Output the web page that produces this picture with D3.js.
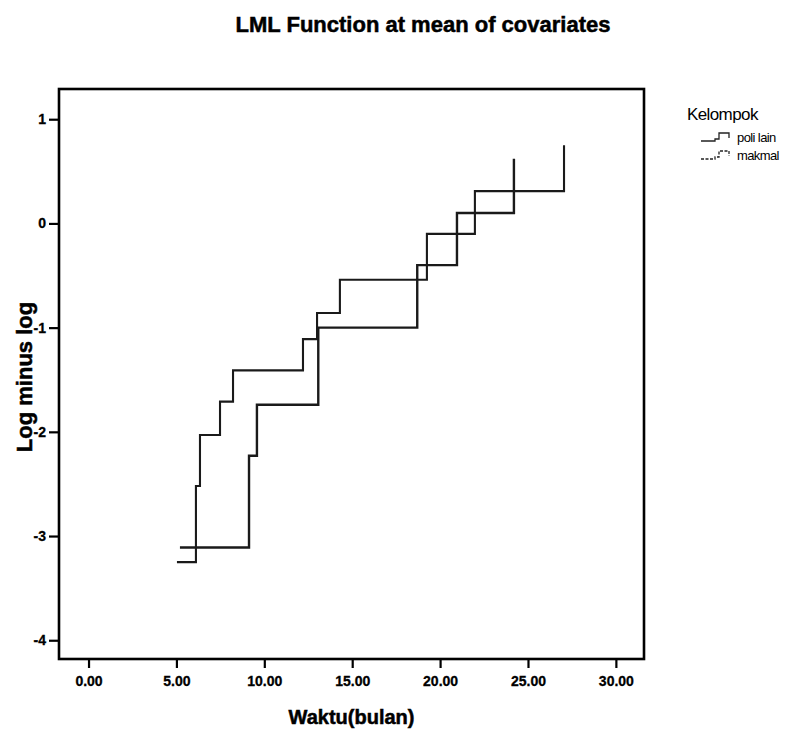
<!DOCTYPE html>
<html>
<head>
<meta charset="utf-8">
<script src="https://cdn.jsdelivr.net/npm/d3@7"></script>
<style>
    body { margin: 0; background: #fff; }
    svg text { font-family: "Liberation Sans", Arial, sans-serif; fill: #000; }
    .heavy { font-weight: bold; stroke: #000; stroke-width: 0.5px; }
</style>
</head>
<body>
<div id="chart"></div>
<script>
(function () {
    "use strict";

    // step points (time in months, log minus log)
    const poliTimes = [5.2, 9.13, 9.58, 13.07, 18.7, 20.96, 24.2];
    const poliValues = [-3.11, -2.23, -1.74, -1.0, -0.40, 0.10, 0.62];

    const makmalTimes = [5.03, 6.11, 6.34, 7.48, 8.22, 12.2, 13.0, 14.3, 19.25, 21.98, 27.05];
    const makmalValues = [-3.25, -2.52, -2.03, -1.71, -1.41, -1.11, -0.86, -0.54, -0.10, 0.31, 0.75];

    const xTicks = [0, 5, 10, 15, 20, 25, 30];
    const yTicks = [1, 0, -1, -2, -3, -4];

    const groups = [
        { name: "poli lain", times: poliTimes, values: poliValues, width: 2.4 },
        { name: "makmal", times: makmalTimes, values: makmalValues, width: 2.1 }
    ];

    const width = 800;
    const height = 730;
    const plot = { left: 59, right: 644, top: 89, bottom: 659 };

    const svg = d3.select("#chart").append("svg")
        .attr("width", width)
        .attr("height", height);

    const xScale = d3.scaleLinear()
        .domain([-1.68, 31.6])
        .range([plot.left, plot.right]);

    const yScale = d3.scaleLinear()
        .domain([-4.18, 1.29])
        .range([plot.bottom, plot.top]);

    svg.append("text")
        .attr("class", "heavy")
        .attr("x", 423)
        .attr("y", 32)
        .attr("text-anchor", "middle")
        .style("font-size", "22px")
        .text("LML Function at mean of covariates");

    const line = d3.line()
        .x(d => xScale(d[0]))
        .y(d => yScale(d[1]))
        .curve(d3.curveStepAfter);

    const series = svg.append("g")
        .attr("class", "series");

    for (const g of groups) {
        series.append("path")
            .attr("d", line(d3.zip(g.times, g.values)))
            .attr("fill", "none")
            .attr("stroke", "#1a1a1a")
            .attr("stroke-width", g.width);
    }

    const xAxis = d3.axisBottom(xScale)
        .tickValues(xTicks)
        .tickSize(9)
        .tickPadding(8)
        .tickFormat(d3.format(".2f"));

    // plain hyphen for negatives, like the original
    const yAxis = d3.axisLeft(yScale)
        .tickValues(yTicks)
        .tickSize(10)
        .tickPadding(3)
        .tickFormat(d => String(d));

    const xAxisG = svg.append("g")
        .attr("transform", `translate(0,${plot.bottom})`)
        .call(xAxis);

    const yAxisG = svg.append("g")
        .attr("transform", `translate(${plot.left},0)`)
        .call(yAxis);

    for (const axisG of [xAxisG, yAxisG]) {
        axisG.select(".domain").remove();
        axisG.selectAll(".tick line")
            .attr("stroke", "#000")
            .attr("stroke-width", 2.2);
        axisG.selectAll(".tick text")
            .attr("class", "heavy")
            .style("stroke-width", "0.3px")
            .style("font-size", "14px")
            .attr("font-family", null);
    }

    // frame
    svg.append("rect")
        .attr("x", plot.left)
        .attr("y", plot.top)
        .attr("width", plot.right - plot.left)
        .attr("height", plot.bottom - plot.top)
        .attr("fill", "none")
        .attr("stroke", "#000")
        .attr("stroke-width", 2.6);

    svg.append("text")
        .attr("class", "heavy")
        .attr("x", (plot.left + plot.right) / 2)
        .attr("y", 724)
        .attr("text-anchor", "middle")
        .style("font-size", "20px")
        .text("Waktu(bulan)");

    svg.append("text")
        .attr("class", "heavy")
        .attr("transform", `translate(32,${(plot.top + plot.bottom) / 2 + 3}) rotate(-90)`)
        .attr("text-anchor", "middle")
        .style("font-size", "22px")
        .text("Log minus log");

    // legend
    const legend = svg.append("g")
        .attr("transform", "translate(687,120)");

    legend.append("text")
        .style("font-size", "17px")
        .style("letter-spacing", "-0.6px")
        .text("Kelompok");

    const icon = d3.line().curve(d3.curveStepAfter);

    groups.forEach((g, i) => {
        const row = legend.append("g")
            .attr("transform", `translate(14,${21 + i * 18})`);

        row.append("path")
            .attr("d", icon([[0, 0], [14, 0], [14, -2], [18, -8], [28, -8], [28, -3]]))
            .attr("fill", "none")
            .attr("stroke", "#222")
            .attr("stroke-width", 1.3)
            .attr("stroke-dasharray", i === 1 ? "3,1.5" : null);

        row.append("text")
            .attr("x", 36)
            .attr("y", 1)
            .style("font-size", "13px")
            .style("letter-spacing", "-0.6px")
            .text(g.name);
    });
}());
</script>
</body>
</html>
